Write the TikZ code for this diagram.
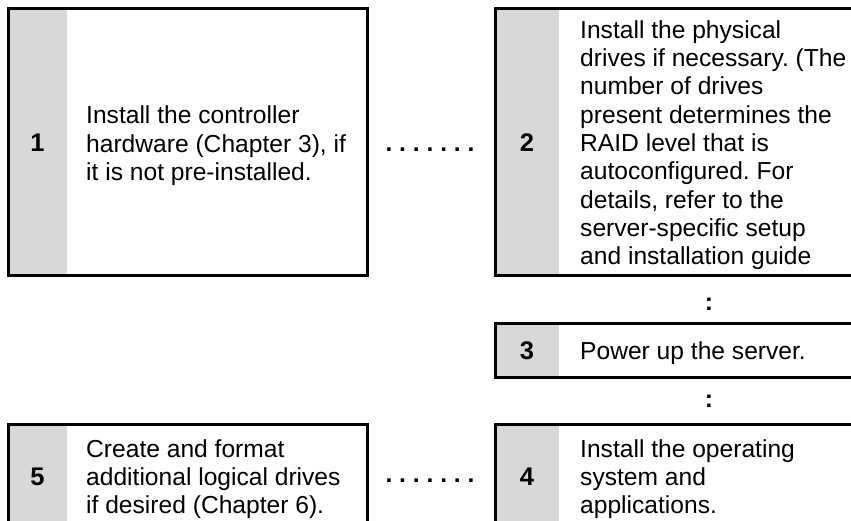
\documentclass[tikz,border=0pt]{standalone}
\usepackage{fontspec}
\setmainfont{Liberation Sans}
\definecolor{numgray}{RGB}{216,216,216}
\begin{document}
\frenchspacing
\begin{tikzpicture}[x=1pt,y=-1pt,
  frame/.style={draw=black,line width=3pt},
  numcol/.style={fill=numgray},
  numtext/.style={font=\fontsize{25.5}{28.3}\selectfont\bfseries,inner sep=0pt},
  bodytext/.style={font=\fontsize{24.6}{28.3}\selectfont,align=left,anchor=west,inner sep=0pt},
  linktext/.style={font=\fontsize{24.6}{28.3}\selectfont\bfseries,inner sep=0pt}]
\useasboundingbox (0,0) rectangle (851,521);
\clip (0,0) rectangle (851,521);
% box 1
\fill[numcol] (8,8.5) rectangle (67,276);
\draw[frame] (8,8.5) rectangle (367.7,276);
\node[numtext] (n1) at (37.5,143) {1};
\node[bodytext] (t1) at (86,145.7) {Install the controller\\hardware (Chapter 3), if\\it is not pre-installed.};
% box 2
\fill[numcol] (495,8.5) rectangle (559,276);
\draw[frame] (495,8.5) rectangle (870,276);
\node[numtext] (n2) at (527,143) {2};
\node[bodytext] (t2) at (580,145.2) {Install the physical\\drives if necessary. (The\\number of drives\\present determines the\\RAID level that is\\autoconfigured. For\\details, refer to the\\server-specific setup\\and installation guide};
% box 3
\fill[numcol] (495,323) rectangle (559,377);
\draw[frame] (495,323) rectangle (870,377);
\node[numtext] (n3) at (527,351) {3};
\node[bodytext] (t3) at (580,352.7) {Power up the server.};
% box 4
\fill[numcol] (495,424) rectangle (559,540);
\draw[frame] (495,424) rectangle (870,540);
\node[numtext] (n4) at (527,476.7) {4};
\node[bodytext] (t4) at (580,479.2) {Install the operating\\system and\\applications.};
% box 5
\fill[numcol] (8,424) rectangle (67,540);
\draw[frame] (8,424) rectangle (367.7,540);
\node[numtext] (n5) at (37.5,476.7) {5};
\node[bodytext] (t5) at (86,479.2) {Create and format\\additional logical drives\\if desired (Chapter 6).};
% links
\node[linktext] (l12) at (430,150) {. . . . . . .};
\node[linktext] (l23) at (709,304) {:};
\node[linktext] (l34) at (709,401) {:};
\node[linktext] (l45) at (430,481) {. . . . . . .};
\end{tikzpicture}
\end{document}
